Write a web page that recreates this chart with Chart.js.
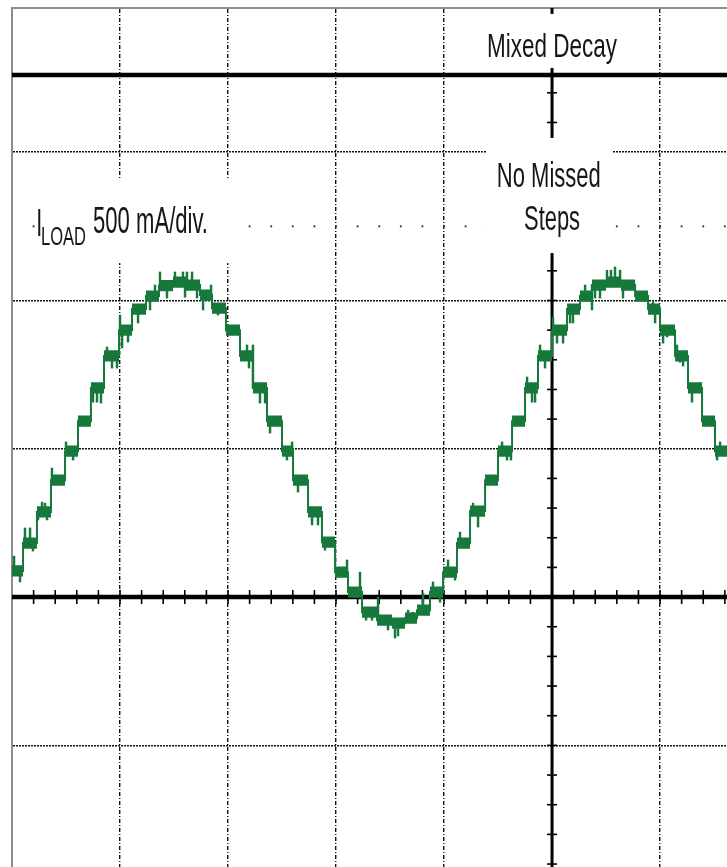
<!DOCTYPE html>
<html>
<head>
<meta charset="utf-8">
<script src="https://cdn.jsdelivr.net/npm/chart.js@4.4.1/dist/chart.umd.min.js"></script>
<style>
  html, body { margin: 0; padding: 0; background: #fff; }
  #scope { display: block; }
</style>
</head>
<body>
<canvas id="scope" width="727" height="867"></canvas>
<script>
// scope capture, I_LOAD 500 mA/div, x in screen divisions

// microstep levels (start of each step, last entry = end of trace)
const stepX = [0, 0.102, 0.231, 0.361, 0.491, 0.611, 0.731, 0.852, 0.991, 1.111,
  1.241, 1.361, 1.491, 1.611, 1.741, 1.852, 1.981, 2.111, 2.231, 2.361,
  2.5, 2.602, 2.741, 2.870, 2.991, 3.111, 3.241, 3.380, 3.519, 3.639,
  3.750, 3.870, 3.991, 4.120, 4.241, 4.380, 4.5, 4.630, 4.750, 4.870,
  5.0, 5.139, 5.259, 5.370, 5.5, 5.639, 5.769, 5.889, 6.0, 6.139,
  6.259, 6.389, 6.509, 6.648];
const stepMa = [88, 182, 287, 394, 492, 593, 705, 813, 900, 971,
  1015, 1050, 1062, 1052, 1018, 974, 900, 813, 705, 593,
  492, 394, 287, 185, 84, 17, -51, -78, -88, -71,
  -44, 17, 84, 182, 290, 394, 492, 593, 705, 813,
  900, 971, 1015, 1052, 1062, 1052, 1015, 971, 900, 813,
  705, 593, 492, 492];

// switching spikes: position and tip value
const spikeX = [0.019, 0.074, 0.120, 0.167, 0.194, 0.241, 0.278, 0.306, 0.324, 0.370,
  0.500, 0.565, 0.750, 0.787, 0.824, 0.880, 0.926, 0.972, 1.000, 1.019,
  1.074, 1.167, 1.278, 1.324, 1.370, 1.435, 1.509, 1.583, 1.602, 1.620,
  1.667, 1.713, 1.769, 1.843, 1.907, 2.176, 2.194, 2.231, 2.296, 2.343,
  2.389, 2.546, 2.593, 2.648, 2.778, 2.833, 2.898, 3.102, 3.157, 3.222,
  3.278, 3.333, 3.389, 3.481, 3.546, 3.574, 3.667, 3.713, 3.806, 3.852,
  3.898, 3.963, 4.037, 4.102, 4.148, 4.269, 4.315, 4.537, 4.583, 4.620,
  4.769, 4.815, 4.843, 4.889, 4.935, 5.009, 5.046, 5.102, 5.167, 5.194,
  5.306, 5.370, 5.398, 5.444, 5.509, 5.546, 5.583, 5.630, 5.657, 5.935,
  5.954, 6.028, 6.065, 6.157, 6.185, 6.213, 6.296, 6.370, 6.528, 6.556];
const spikeTip = [138, 51, 233, 233, 155, 260, 320, 317, 260, 435,
  523, 462, 657, 657, 654, 843, 772, 772, 951, 840,
  860, 924, 968, 1052, 1096, 1008, 1096, 1096, 1011, 1096,
  1096, 1008, 968, 1052, 951, 850, 772, 850, 654, 654,
  553, 462, 523, 354, 243, 243, 158, 125, 0, 84,
  -78, -78, 0, -111, -138, -131, -44, -51, 13, -44,
  51, -17, 125, 57, 219, 317, 236, 523, 462, 462,
  742, 657, 657, 850, 772, 944, 856, 856, 924, 924,
  1052, 968, 1008, 1008, 1102, 1102, 1113, 1102, 1008, 995,
  924, 856, 877, 850, 792, 779, 657, 722, 462, 523];

// second channel, flat trace
const ch2X = [0, 6.62];
const ch2Ma = [1760, 1760];

// graticule
const xGrid = [1, 2, 3, 4, 6];
const yGrid = [-500, 500, 1000, 1500];
const X_MIN = 0, X_MAX = 6.62, Y_MIN = -910, Y_MAX = 1986;
const CENTER_X = 5;
const DOT_ROW = 1250;

const GREEN = "#17783b";
const BAND = 19; // half height of the noisy band on each step

function levelAt(x) {
  let lv = stepMa[0];
  for (let i = 0; i < stepX.length; i++) if (stepX[i] <= x) lv = stepMa[i];
  return lv;
}

const lowData = stepX.map((x, i) => ({ x, y: stepMa[i] - BAND }));
const highData = stepX.map((x, i) => ({ x, y: stepMa[i] + BAND }));
const levelData = stepX.map((x, i) => ({ x, y: stepMa[i] }));
const spikeData = spikeX.map((x, i) => ({ x, y: [levelAt(x), spikeTip[i]] }));
const ch2Data = ch2X.map((x, i) => ({ x, y: ch2Ma[i] }));

// white boxes behind the annotations (hide the graticule there)
const boxes = [
  { x0: 0.215, x1: 2.12, y0: 1126, y1: 1406 },
  { x0: 4.39, x1: 5.565, y0: 1160, y1: 1548 },
  { x0: 4.2, x1: 5.8, y0: 1784, y1: 1966 },
];
const notes = [
  { text: "Mixed Decay", x: 5.0, y: 1821, size: 34, width: 130, align: "center" },
  { text: "No Missed", x: 4.97, y: 1382, size: 35, width: 104, align: "center" },
  { text: "Steps", x: 5.0, y: 1237, size: 35, width: 56, align: "center" },
  { text: "I", x: 0.225, y: 1218, size: 38, width: 6, align: "left" },
  { text: "LOAD", x: 0.269, y: 1187, size: 26, width: 45, align: "left" },
  { text: "500 mA/div.", x: 0.75, y: 1227, size: 36, width: 115, align: "left" },
];

function drawNote(ctx, n, px, py) {
  ctx.save();
  ctx.font = `${n.size}px "Liberation Sans", Arial, sans-serif`;
  const w = ctx.measureText(n.text).width;
  ctx.translate(px, py);
  ctx.scale(n.width / w, 1);
  ctx.textAlign = n.align;
  ctx.textBaseline = "alphabetic";
  ctx.fillStyle = "#161616";
  ctx.fillText(n.text, 0, 0);
  ctx.restore();
}

const scopeDecor = {
  id: "scopeDecor",
  beforeDatasetsDraw(chart) {
    const { ctx, chartArea: a, scales: { x, y } } = chart;
    const seg = (x1, y1, x2, y2) => {
      ctx.beginPath();
      ctx.moveTo(x1, y1);
      ctx.lineTo(x2, y2);
      ctx.stroke();
    };
    ctx.save();

    // sparse dotted row
    ctx.fillStyle = "#333";
    const yd = y.getPixelForValue(DOT_ROW);
    for (let i = 1; i * 0.2 < X_MAX; i++) {
      ctx.beginPath();
      ctx.arc(x.getPixelForValue(i * 0.2), yd, 1.1, 0, Math.PI * 2);
      ctx.fill();
    }

    // centre axes with minor ticks
    const y0 = y.getPixelForValue(0);
    const xc = x.getPixelForValue(CENTER_X);
    ctx.strokeStyle = "#000";
    ctx.lineWidth = 4.5;
    seg(a.left, y0, a.right, y0);
    ctx.lineWidth = 3;
    seg(xc, a.top, xc, a.bottom);
    ctx.lineWidth = 1.6;
    for (let i = 1; i * 0.2 < X_MAX; i++) {
      const px = x.getPixelForValue(i * 0.2);
      seg(px, y0 - 7, px, y0 + 7);
    }
    for (let v = -900; v <= 1900; v += 100) {
      const py = y.getPixelForValue(v);
      seg(xc - 5, py, xc + 5, py);
    }

    // annotation boxes and text
    ctx.fillStyle = "#fff";
    boxes.forEach(b => {
      const l = x.getPixelForValue(b.x0), r = x.getPixelForValue(b.x1);
      const t = y.getPixelForValue(b.y1), btm = y.getPixelForValue(b.y0);
      ctx.fillRect(l, t, r - l, btm - t);
    });
    notes.forEach(n => drawNote(ctx, n, x.getPixelForValue(n.x), y.getPixelForValue(n.y)));
    ctx.restore();
  },
};

const stepLine = {
  type: "line",
  stepped: true,
  pointRadius: 0,
  pointHoverRadius: 0,
};

new Chart(document.getElementById("scope"), {
  type: "line",
  data: {
    datasets: [
      { ...stepLine, label: "band low", data: lowData, borderWidth: 0, fill: false },
      { ...stepLine, label: "band high", data: highData, borderWidth: 0, fill: "-1", backgroundColor: GREEN },
      { ...stepLine, label: "I load", data: levelData, borderColor: GREEN, borderWidth: 2 },
      { type: "bar", label: "spikes", data: spikeData, backgroundColor: GREEN, barThickness: 1.8 },
      { type: "line", label: "ch2", data: ch2Data, borderColor: "#000", borderWidth: 4.5, pointRadius: 0 },
    ],
  },
  options: {
    responsive: false,
    devicePixelRatio: 1,
    animation: false,
    layout: { padding: { left: 12, top: 8, right: 0, bottom: 0 } },
    plugins: { legend: { display: false }, tooltip: { enabled: false } },
    scales: {
      x: {
        type: "linear",
        position: "top",
        min: X_MIN,
        max: X_MAX,
        offset: false,
        afterBuildTicks: s => { s.ticks = xGrid.map(v => ({ value: v })); },
        ticks: { display: false },
        grid: { color: "#111", lineWidth: 1.4, drawTicks: false, offset: false },
        border: { display: true, color: "#8c8c8c", width: 2, dash: [4, 2, 1, 2] },
      },
      y: {
        type: "linear",
        position: "left",
        min: Y_MIN,
        max: Y_MAX,
        afterBuildTicks: s => { s.ticks = yGrid.map(v => ({ value: v })); },
        ticks: { display: false },
        grid: { color: "#111", lineWidth: 1.4, drawTicks: false, offset: false },
        border: { display: true, color: "#8c8c8c", width: 2, dash: [2, 1] },
      },
    },
  },
  plugins: [scopeDecor],
});
</script>
</body>
</html>
